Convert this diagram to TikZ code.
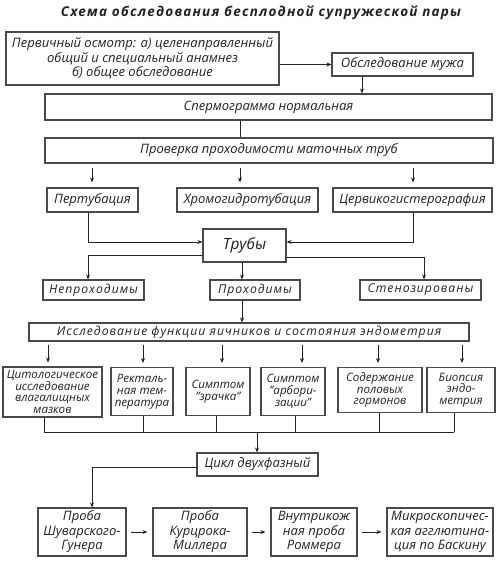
\documentclass[tikz,border=0pt]{standalone}
\usepackage{fontspec}
\setmainfont{Open Sans}
\usetikzlibrary{arrows.meta}
\definecolor{ink}{HTML}{222222}
\definecolor{frame}{HTML}{4A4A4A}
\tikzset{
  box/.style={draw=frame, line width=1.1pt, inner sep=1pt, align=center, text=ink,
    font=\fontsize{13}{14.5}\selectfont\itshape},
  small/.style={font=\fontsize{11.6}{11.8}\selectfont\itshape},
  spaced/.style={font=\fontsize{12.2}{13}\selectfont\itshape\addfontfeatures{LetterSpace=8}},
  arr/.style={-{Stealth[length=5pt,width=4pt]}, line width=0.8pt, draw=ink},
  ln/.style={line width=0.8pt, draw=ink},
}
\begin{document}
\begin{tikzpicture}[x=1pt,y=-1pt]
\useasboundingbox (0,0) rectangle (500,563);
\node[text=ink, font=\fontsize{13.5}{15}\selectfont\bfseries\itshape\addfontfeatures{LetterSpace=9}] (title) at (261,13) {Схема обследования бесплодной супружеской пары};

\node[box, minimum width=273pt, minimum height=53pt] (n1) at (142.5,58.5) {Первичный осмотр: а) целенаправленный\\общий и специальный анамнез\\б) общее обследование};
\node[box, minimum width=141pt, minimum height=23pt] (husband) at (402.5,64.5) {Обследование мужа};
\node[box, minimum width=447pt, minimum height=26pt] (sperm) at (268.5,107) {Спермограмма нормальная};
\node[box, minimum width=448pt, minimum height=25pt] (check) at (269,150.5) {Проверка проходимости маточных труб};
\node[box, minimum width=91pt, minimum height=24pt] (pert) at (92.5,200) {Пертубация};
\node[box, minimum width=141pt, minimum height=24pt] (chrom) at (247.5,200) {Хромогидротубация};
\node[box, minimum width=159pt, minimum height=24pt] (cerv) at (412.5,200) {Цервикогистерография};
\node[box, minimum width=83pt, minimum height=33pt, font=\fontsize{15.5}{17}\selectfont\itshape] (tubes) at (244.5,245.5) {Трубы};
\node[box, spaced, minimum width=101pt, minimum height=20pt] (neprox) at (93.5,290) {Непроходимы};
\node[box, spaced, minimum width=90pt, minimum height=20pt] (prox) at (255,290) {Проходимы};
\node[box, spaced, minimum width=121pt, minimum height=20pt] (steno) at (420.5,290) {Стенозированы};
\node[box, spaced, minimum width=440pt, minimum height=18pt] (ovary) at (249,332) {Исследование функции яичников и состояния эндометрия};

\node[box, small, minimum width=99pt, minimum height=50pt] (b1) at (52.5,392) {Цитологическое\\исследование\\влагалищных\\мазков};
\node[box, small, minimum width=62pt, minimum height=48pt, anchor=north] (b2) at (142,367) {Ректаль-\\ная тем-\\пература};
\node[box, small, minimum width=64pt, minimum height=48pt, anchor=north] (b3) at (218,367) {Симптом\\"зрачка"};
\node[box, small, minimum width=64pt, minimum height=48pt, anchor=north] (b4) at (293,367) {Симптом\\"арбори-\\зации"};
\node[box, small, minimum width=84pt, minimum height=45pt, anchor=north] (b5) at (380,367) {Содержание\\половых\\гормонов};
\node[box, small, minimum width=68pt, minimum height=45pt, anchor=north] (b6) at (461,367) {Биопсия\\эндо-\\метрия};

\node[box, minimum width=121pt, minimum height=23pt] (cycle) at (257.5,464.5) {Цикл двухфазный};
\node[box, minimum width=88pt, minimum height=48pt] (c1) at (82,532) {Проба\\Шуварского-\\Гунера};
\node[box, minimum width=94pt, minimum height=48pt] (c2) at (200,532) {Проба\\Курцрока-\\Миллера};
\node[box, minimum width=86pt, minimum height=48pt] (c3) at (314,532) {Внутрикож\\ная проба\\Роммера};
\node[box, minimum width=106pt, minimum height=48pt] (c4) at (440,532) {Микроскопичес-\\кая агглютина-\\ция по Баскину};

% helper coordinates
\coordinate (hx) at (362,0);
\coordinate (sx) at (240,0);
\coordinate (px) at (88,0);
\coordinate (p2x) at (92,0);
\coordinate (qx) at (413,0);
\coordinate (ty) at (0,242);
\coordinate (ly) at (0,255);
\coordinate (ry) at (0,257);
\coordinate (sx2) at (424,0);
\coordinate (mx) at (242,0);
\coordinate (busL) at (44,432);
\coordinate (busR) at (454,432);
\coordinate (busM) at (257,432);
\coordinate (cy) at (0,467);
\coordinate (c1x) at (92,0);

\draw[arr] (n1.east |- husband.west) -- (husband.west);
\draw[arr] (husband.south -| hx) -- (sperm.north -| hx);
\draw[ln] (sperm.south -| sx) -- (check.north -| sx);
\draw[arr, shorten <=4pt, shorten >=5pt] (check.south -| p2x) -- (pert.north -| p2x);
\draw[arr, shorten <=4pt, shorten >=5pt] (check.south -| sx) -- (chrom.north -| sx);
\draw[arr, shorten <=4pt, shorten >=5pt] (check.south -| qx) -- (cerv.north -| qx);
\draw[arr] (pert.south -| px) |- (tubes.west |- ty);
\draw[arr] (cerv.south -| qx) |- (tubes.east |- ty);
\draw[arr] (tubes.west |- ly) -| (neprox.north -| px);
\draw[arr] (tubes.south -| mx) -- (prox.north -| mx);
\draw[arr] (tubes.east |- ry) -| (steno.north -| sx2);
\draw[arr] (prox.south -| mx) -- (ovary.north -| mx);

\foreach \b/\x in {b1/48, b2/143, b3/222, b4/302, b5/378, b6/462}{
  \coordinate (ax) at (\x,0);
  \draw[arr, shorten <=3pt, shorten >=4pt] (ovary.south -| ax) -- (\b.north -| ax);
}
\foreach \b/\x in {b1/44, b2/143, b3/216, b4/295, b5/379, b6/454}{
  \coordinate (bx) at (\x,0);
  \draw[ln] (\b.south -| bx) -- (busL -| bx);
}
\draw[ln] (busL) -- (busR);
\draw[arr] (busM) -- (cycle.north -| busM);
\draw[arr] (cycle.west |- cy) -| (c1.north -| c1x);
\draw[arr, shorten <=4pt, shorten >=5pt] (c1.east) -- (c2.west);
\draw[arr, shorten <=4pt, shorten >=5pt] (c2.east) -- (c3.west);
\draw[arr, shorten <=4pt, shorten >=5pt] (c3.east) -- (c4.west);
\end{tikzpicture}
\end{document}
